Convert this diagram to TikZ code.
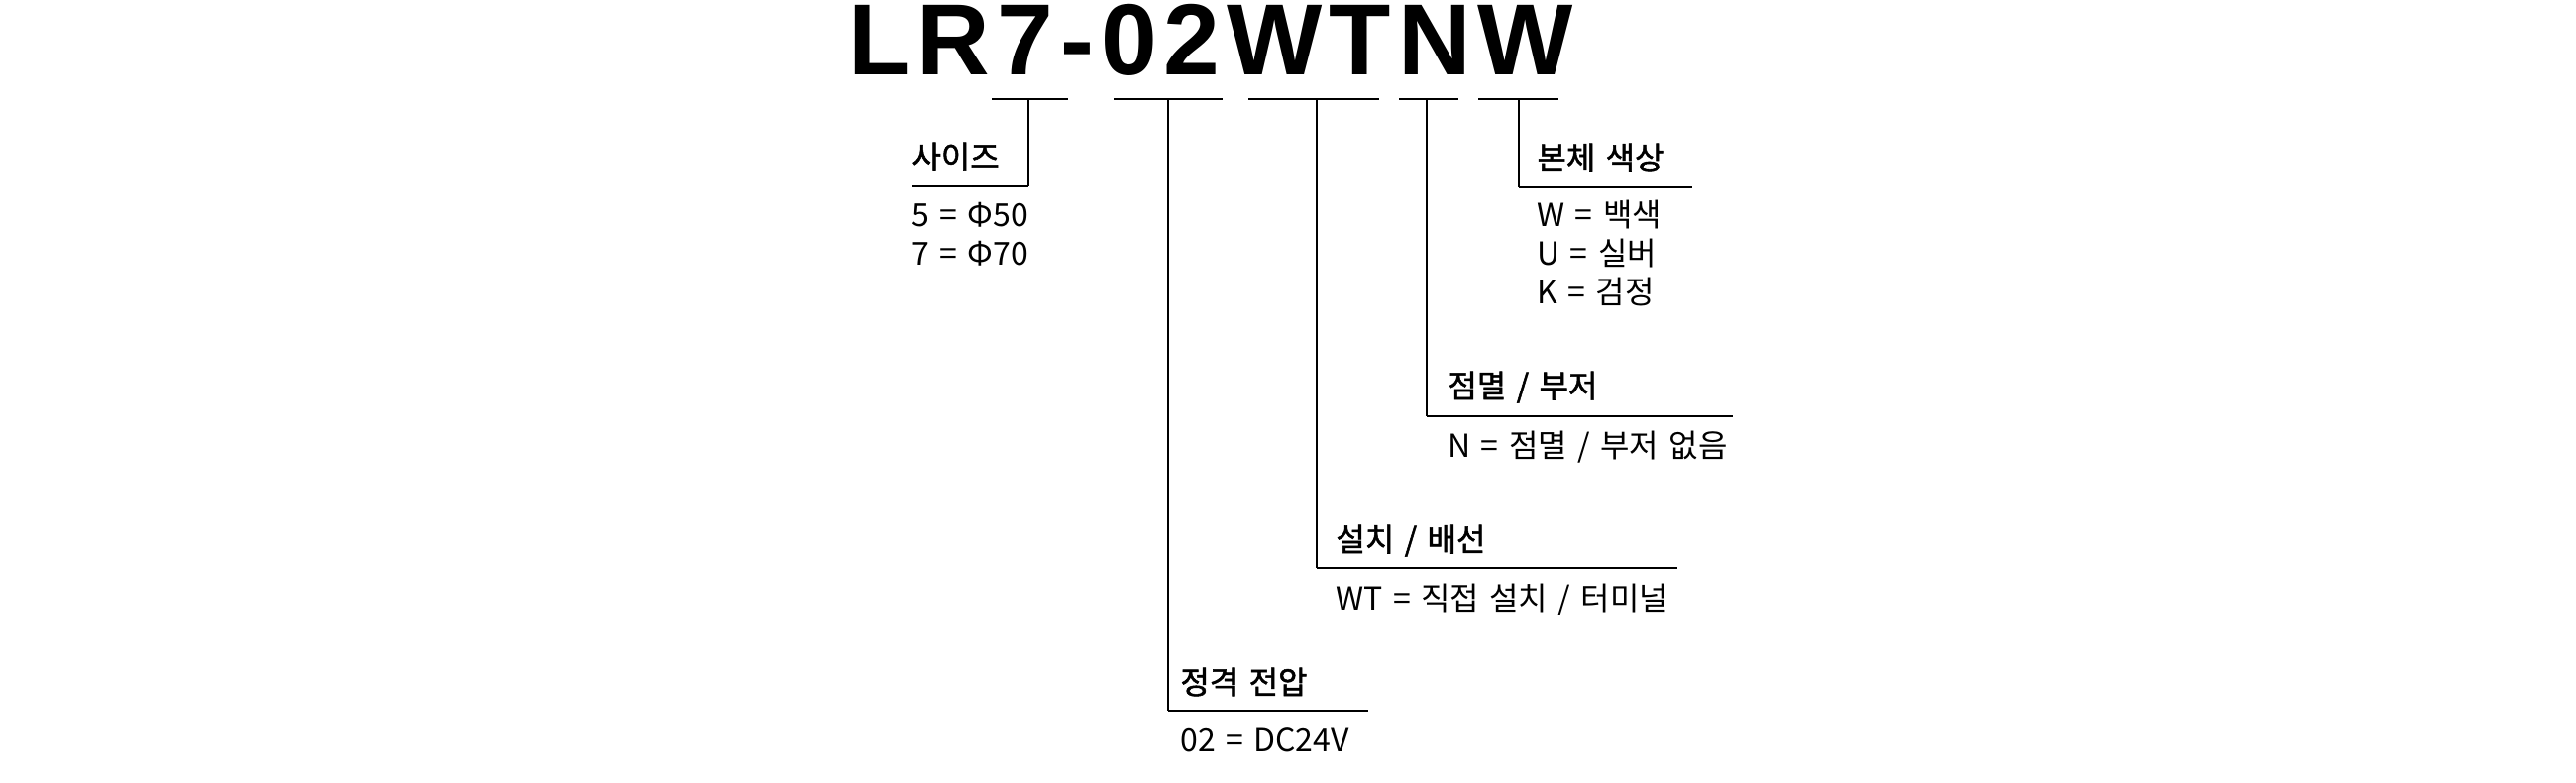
\documentclass[tikz,border=0pt]{standalone}
\usepackage{fontspec}
\newfontfamily\kr[WordSpace=1.45]{Noto Sans CJK KR}
\newfontfamily\krh[WordSpace=1.45,FakeBold=1.6]{Noto Sans CJK KR}
\newfontfamily\ttlfont{Liberation Sans}
\newcommand{\tk}{\kern3.5pt}
\begin{document}
\begin{tikzpicture}[x=0.5pt,y=-0.5pt,
  txt/.style={anchor=base west,inner sep=0pt,font=\kr\fontsize{16pt}{19.5pt}\selectfont},
  hdr/.style={anchor=base west,inner sep=0pt,font=\krh\fontsize{16pt}{19.5pt}\selectfont},
  seg/.style={line width=1.1pt},
  lead/.style={line width=0.8pt},
  uline/.style={line width=1.2pt}]
\useasboundingbox[fill=white] (0,0) rectangle (2600,790);
% title
\node[anchor=base west,inner sep=0pt,font=\ttlfont\bfseries\fontsize{51pt}{51pt}\selectfont] (title) at (856,76)
  {L\tk R\tk 7\tk -\tk 0\tk 2\tk W\tk T\tk N\tk W};
% top segments
\coordinate (s1a) at (1001,100); \coordinate (s1b) at (1078,100); \coordinate (t1) at (1038,100);
\coordinate (s2a) at (1124,100); \coordinate (s2b) at (1234,100); \coordinate (t2) at (1179,100);
\coordinate (s3a) at (1260,100); \coordinate (s3b) at (1392,100); \coordinate (t3) at (1329,100);
\coordinate (s4a) at (1412,100); \coordinate (s4b) at (1472,100); \coordinate (t4) at (1440,100);
\coordinate (s5a) at (1492,100); \coordinate (s5b) at (1573,100); \coordinate (t5) at (1533,100);
\foreach \i in {1,...,5} {\draw[seg] (s\i a) -- (s\i b);}
% corners and underline ends
\coordinate (c1) at (1038,188); \coordinate (e1) at (920,188);
\coordinate (c2) at (1179,717); \coordinate (e2) at (1381,717);
\coordinate (c3) at (1329,573); \coordinate (e3) at (1693,573);
\coordinate (c4) at (1440,420); \coordinate (e4) at (1749,420);
\coordinate (c5) at (1533,189); \coordinate (e5) at (1708,189);
\foreach \i in {1,...,5} {\draw[lead] (t\i) -- (c\i); \draw[uline] (c\i) -- (e\i);}
% size
\node[hdr] (h1) at (920,170) {사이즈};
\node[txt] (v1a) at (920,229) {5 = Φ50};
\node[txt] (v1b) at (920,268) {7 = Φ70};
% body colour
\node[hdr] (h5) at (1551,171) {본체 색상};
\node[txt] (v5a) at (1551,229) {W = 백색};
\node[txt] (v5b) at (1551,268) {U = 실버};
\node[txt] (v5c) at (1551,307) {K = 검정};
% flash / buzzer
\node[hdr] (h4) at (1461,401) {점멸 / 부저};
\node[txt] (v4a) at (1461,462) {N = 점멸 / 부저 없음};
% installation
\node[hdr] (h3) at (1348,556) {설치 / 배선};
\node[txt] (v3a) at (1348,615) {WT = 직접 설치 / 터미널};
% voltage
\node[hdr] (h2) at (1191,700) {정격 전압};
\node[txt] (v2a) at (1191,758) {02 = DC24V};
\end{tikzpicture}
\end{document}
